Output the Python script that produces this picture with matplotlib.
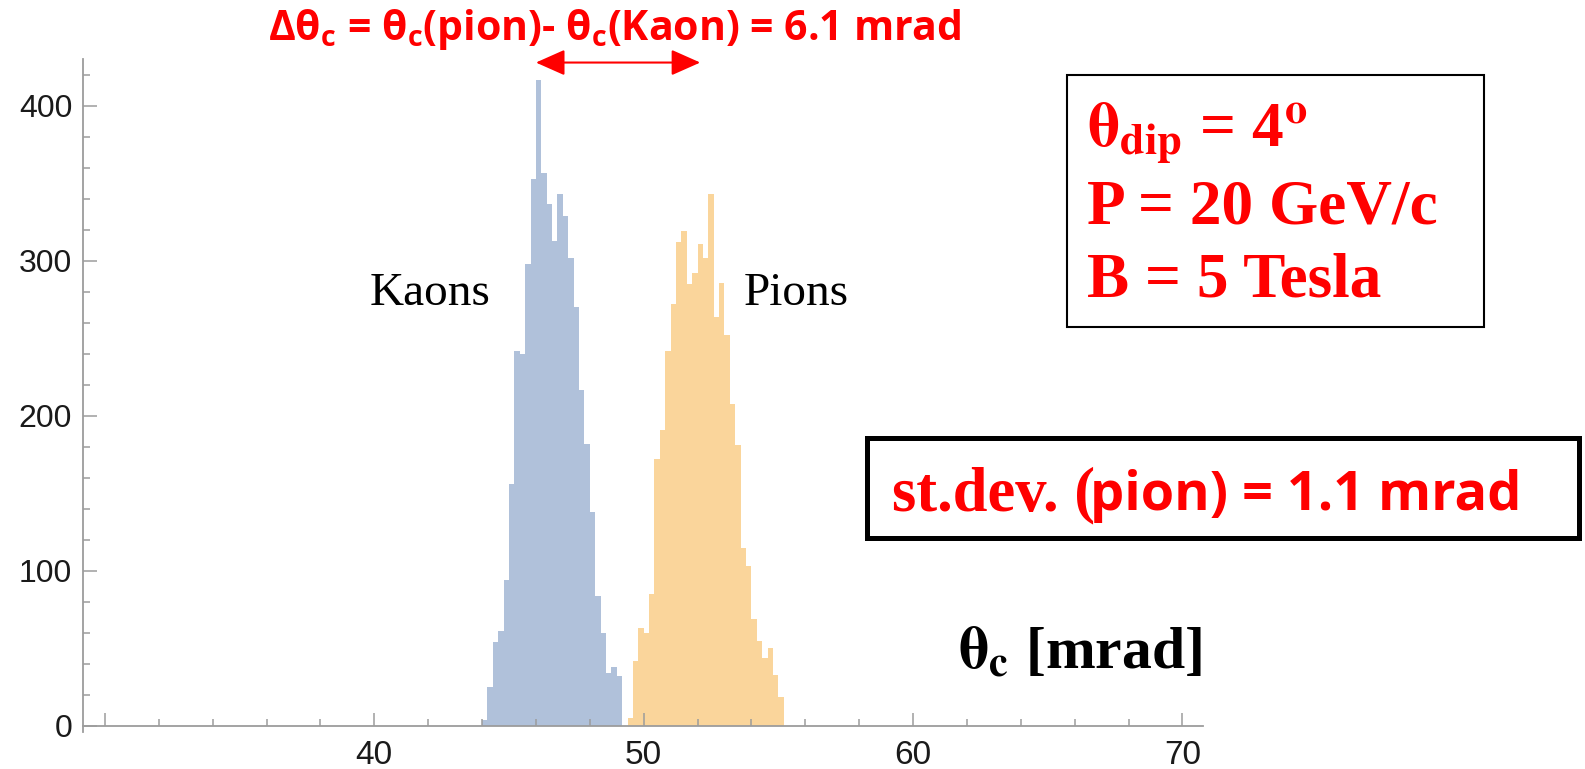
import numpy as np
import matplotlib
matplotlib.use("Agg")
from matplotlib import pyplot as plt
from matplotlib.patches import Rectangle
from matplotlib.ticker import MultipleLocator, FixedLocator

# Histogram counts per 0.2 mrad bin
bin_width = 0.2
kaon_start = 44.0
kaon_counts = [4, 25, 54, 61, 94, 156, 242, 240, 298, 353, 417, 357, 337,
               313, 343, 329, 302, 270, 217, 182, 138, 84, 60, 34, 38, 32]
pion_start = 49.4
pion_counts = [5, 42, 63, 60, 85, 172, 191, 242, 272, 312, 319, 285, 292,
               311, 302, 343, 264, 286, 252, 208, 181, 115, 103, 69, 55, 44,
               50, 33, 19]

kaon_mean = 46.0
pion_mean = 52.1
x_major = [30, 40, 50, 60, 70]
x_labels = ["", "40", "50", "60", "70"]

KAON_COLOR = "#B0C1DA"
PION_COLOR = "#FAD59B"
AXIS_GRAY = "#9c9c9c"
W, H = 1585, 769

plt.rcParams["mathtext.bf"] = "Open Sans:bold"
plt.rcParams["mathtext.rm"] = "Open Sans:bold"


def fx(px):
    return px / W


def fy(py):
    return 1 - py / H


fig = plt.figure(figsize=(W / 100, H / 100), dpi=100)
ax = fig.add_axes([0.05256, 0.0479, 0.7064, 0.8748])

kaon_left = kaon_start + bin_width * np.arange(len(kaon_counts))
pion_left = pion_start + bin_width * np.arange(len(pion_counts))
ax.bar(kaon_left, kaon_counts, width=bin_width, align="edge",
       color=KAON_COLOR, linewidth=0)
ax.bar(pion_left, pion_counts, width=bin_width, align="edge",
       color=PION_COLOR, linewidth=0)

ax.set_xlim(29.2, 70.76)
ax.set_ylim(-4, 430)

for side in ["top", "right"]:
    ax.spines[side].set_visible(False)
ax.spines["bottom"].set_position(("data", 0))
for side in ["bottom", "left"]:
    ax.spines[side].set_color(AXIS_GRAY)
    ax.spines[side].set_linewidth(1.3)

ax.xaxis.set_major_locator(FixedLocator(x_major))
ax.set_xticklabels(x_labels)
ax.xaxis.set_minor_locator(MultipleLocator(2))
ax.yaxis.set_major_locator(MultipleLocator(100))
ax.yaxis.set_minor_locator(MultipleLocator(20))

ax.tick_params(axis="x", which="major", direction="in", length=9.5, width=1.1,
               color=AXIS_GRAY, labelsize=24, pad=10, labelcolor="#1a1a1a")
ax.tick_params(axis="x", which="minor", direction="in", length=5, width=1.1,
               color=AXIS_GRAY)
ax.tick_params(axis="y", which="major", direction="in", length=10, width=1.1,
               color=AXIS_GRAY, labelsize=23, pad=8, labelcolor="#1a1a1a")
ax.tick_params(axis="y", which="minor", direction="in", length=5, width=1.1,
               color=AXIS_GRAY)
for lbl in ax.get_xticklabels() + ax.get_yticklabels():
    lbl.set_fontfamily("Liberation Sans")

# particle labels
ax.text(39.84, 271.6, "Kaons", fontsize=34, family="Liberation Serif",
        va="baseline")
ax.text(53.70, 271.6, "Pions", fontsize=34, family="Liberation Serif",
        va="baseline")

# separation arrow between the two peaks
ax.annotate("", xy=(pion_mean, 428), xytext=(kaon_mean, 428),
            arrowprops=dict(arrowstyle="<|-|>,head_length=1.8,head_width=0.8",
                            color="red", lw=1.5, shrinkA=0, shrinkB=0,
                            mutation_scale=10),
            annotation_clip=False)

fig.text(fx(268), fy(40),
         r"$\mathbf{\Delta\theta_c}$ = $\mathbf{\theta_c}$(pion)- "
         r"$\mathbf{\theta_c}$(Kaon) = 6.1 mrad",
         fontsize=29.5, family="Open Sans", weight="bold", color="red",
         math_fontfamily="custom", va="baseline")

# settings box
fig.add_artist(Rectangle((fx(1066.7), fy(326.7)), fx(1484) - fx(1066.7),
                         fy(75) - fy(326.7), transform=fig.transFigure,
                         fill=False, ec="black", lw=1.5))
box_lines = [r"$\mathbf{\theta_{dip}}$ = 4$^{\mathbf{o}}$",
             "P = 20 GeV/c", "B = 5 Tesla"]
for line, base in zip(box_lines, [146, 223.3, 296.7]):
    fig.text(fx(1087), fy(base), line, fontsize=45.5, family="Liberation Serif",
             weight="bold", color="red", math_fontfamily="stix",
             va="baseline")

# resolution box
fig.add_artist(Rectangle((fx(867), fy(537.7)), fx(1579) - fx(867),
                         fy(437.7) - fy(537.7), transform=fig.transFigure,
                         fill=False, ec="black", lw=3.6))
fig.text(fx(891.5), fy(510), "st.dev. (", fontsize=45,
         family="Liberation Serif", weight="bold", color="red", va="baseline")
fig.text(fx(1090), fy(510), "pion) = 1.1 mrad", fontsize=39,
         family="Open Sans", weight="bold", color="red", va="baseline")

# axis title
fig.text(fx(958), fy(668.3), r"$\mathbf{\theta_c}$ [mrad]", fontsize=43,
         family="Liberation Serif", weight="bold", color="black",
         math_fontfamily="stix", va="baseline")

fig.savefig("out.png", dpi=100)
